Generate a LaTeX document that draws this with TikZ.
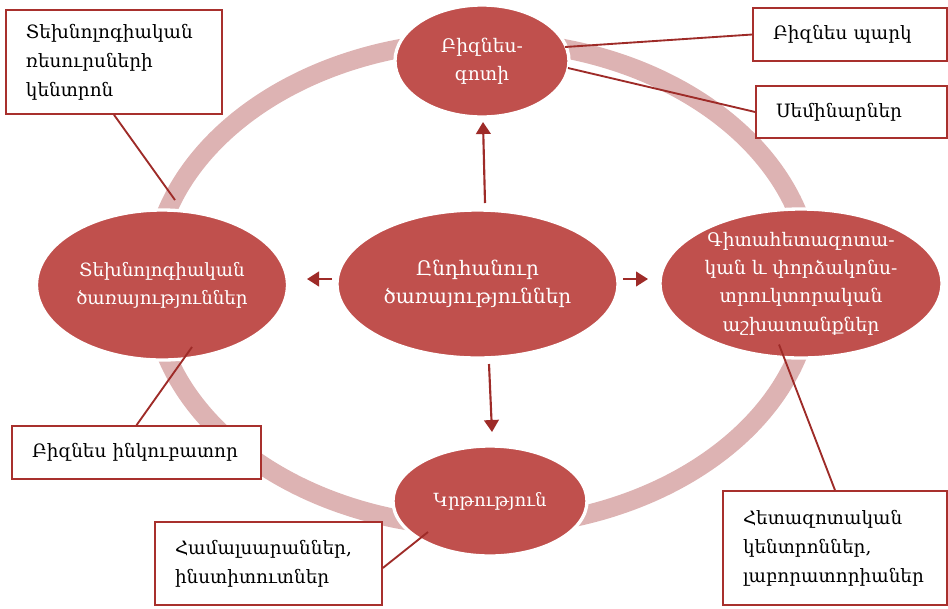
\documentclass[tikz,border=0pt]{standalone}
\usepackage{fontspec}
\setmainfont{DejaVu Serif}
\usetikzlibrary{shapes.geometric,arrows.meta,calc}
\definecolor{ringc}{HTML}{DDB3B3}
\definecolor{ellc}{HTML}{C0504D}
\definecolor{linec}{HTML}{9E2B28}
\definecolor{boxc}{HTML}{A8302D}
\begin{document}
\begin{tikzpicture}[x=0.75pt,y=-0.75pt,
  ell/.style={ellipse, fill=ellc, draw=white, line width=2.5pt, inner sep=0pt, text=white, align=center, font=\fontsize{14}{21.3}\selectfont},
  callout/.style={rectangle, draw=boxc, line width=1.2pt, fill=white, inner xsep=15pt, inner ysep=0pt, align=left, font=\fontsize{13.8}{21.75}\selectfont},
  lead/.style={draw=linec, line width=1.4pt},
  arr/.style={draw=linec, line width=1.6pt, -{Triangle[length=9pt,width=11pt]}},
  ring/.style={draw=ringc, line width=14.25pt}]
\useasboundingbox (0,0) rectangle (948,608);
\draw[ring] (482,284) ellipse [x radius=247.5pt, y radius=182.25pt];
% ellipses
\node[ell, minimum width=130.5pt, minimum height=84pt] (top) at (482,61) {Բիզնես-\\գոտի};
\node[ell, minimum width=210.75pt, minimum height=111pt, font=\fontsize{15}{21}\selectfont] (ctr) at (477.5,284) {Ընդհանուր\\ծառայություններ};
\node[ell, minimum width=188.25pt, minimum height=112.5pt, font=\fontsize{13.7}{21}\selectfont] (lft) at (162,285) {Տեխնոլոգիական\\ծառայություններ};
\node[ell, minimum width=211.5pt, minimum height=111.75pt] (rgt) at (801,283.5) {Գիտահետազոտա-\\կան և փորձակոնս-\\տրուկտորական\\աշխատանքներ};
\node[ell, minimum width=145.5pt, minimum height=82.5pt, font=\fontsize{13.6}{21}\selectfont] (bot) at (490,501) {Կրթություն};
% callout boxes
\node[callout, text width=132pt, minimum height=78pt] (b1) at (114,62) {Տեխնոլոգիական\\ռեսուրսների\\կենտրոն};
\node[callout, text width=115.5pt, minimum height=39.75pt] (b2) at (850,34.5) {Բիզնես պարկ};
\node[callout, text width=113.25pt, minimum height=39pt] (b3) at (851.5,112) {Սեմինարներ};
\node[callout, text width=156.75pt, minimum height=39.75pt] (b4) at (136.5,452.5) {Բիզնես ինկուբատոր};
\node[callout, text width=140.25pt, minimum height=62.25pt] (b5) at (268.5,563.5) {Համալսարաններ,\\ինստիտուտներ};
\node[callout, text width=138pt, minimum height=85.5pt] (b6) at (835,548) {Հետազոտական\\կենտրոններ,\\լաբորատորիաներ};
% leader lines
\coordinate (c1) at (175,200);
\draw[lead] (b1.south) -- (c1);
\draw[lead] (b2.west) -- ($(top.center)+(83,-14)$);
\draw[lead] (b3.west) -- ($(top.center)+(86,7)$);
\draw[lead] (b4.north) -- ($(lft.center)+(30,62)$);
\draw[lead] ($(b5.east)+(0,4.5)$) -- ($(bot.center)+(-62,31)$);
\draw[lead] (b6.north) -- ($(rgt.center)+(-22,61)$);
% arrows
\draw[arr] ($(ctr.center)+(7.5,-81)$) -- ($(top.center)+(1,61)$);
\draw[arr] ($(ctr.center)+(11.5,80)$) -- ($(bot.center)+(2,-69)$);
\draw[arr] ($(ctr.center)+(-145.5,-5)$) -- ($(lft.center)+(145,-6)$);
\draw[arr] ($(ctr.center)+(145.5,-5)$) -- ($(rgt.center)+(-153,-4.5)$);
\end{tikzpicture}
\end{document}
